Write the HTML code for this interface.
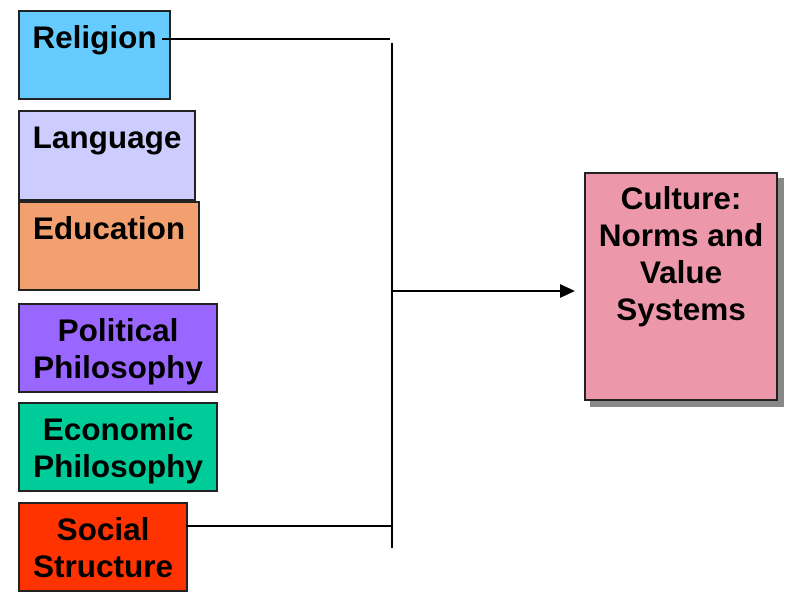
<!DOCTYPE html>
<html><head><style>
body{margin:0;width:805px;height:602px;background:#fff;position:relative;overflow:hidden;font-family:"Liberation Sans",Arial,sans-serif;}
.b{position:absolute;box-sizing:border-box;border:2px solid #222;text-align:center;font-weight:bold;font-size:31.5px;line-height:37px;padding-top:7px;color:#000;white-space:nowrap;}
.l{position:absolute;background:#000;}
</style></head><body>
<div class="b" style="left:18px;top:10px;width:153px;height:90px;background:#66ccff">Religion</div>
<div class="b" style="left:18px;top:110px;width:178px;height:91px;background:#ccccff">Language</div>
<div class="b" style="left:18px;top:201px;width:182px;height:90px;background:#f2a070">Education</div>
<div class="b" style="left:18px;top:303px;width:200px;height:90px;background:#9966ff">Political<br>Philosophy</div>
<div class="b" style="left:18px;top:402px;width:200px;height:90px;background:#00cc99">Economic<br>Philosophy</div>
<div class="b" style="left:18px;top:502px;width:170px;height:90px;background:#ff3300">Social<br>Structure</div>
<div style="position:absolute;left:590px;top:178px;width:194px;height:229px;background:#888"></div>
<div class="b" style="left:584px;top:172px;width:194px;height:229px;background:#ec98aa;padding-top:6px">Culture:<br>Norms and<br>Value<br>Systems</div>
<div class="l" style="left:162px;top:38px;width:228px;height:2px"></div>
<div class="l" style="left:391px;top:43px;width:2px;height:505px"></div>
<div class="l" style="left:186px;top:525px;width:206px;height:2px"></div>
<div class="l" style="left:392px;top:290px;width:170px;height:2px"></div>
<svg style="position:absolute;left:560px;top:284px" width="16" height="14"><polygon points="0,0 15,7 0,14" fill="#000"/></svg>
</body></html>
